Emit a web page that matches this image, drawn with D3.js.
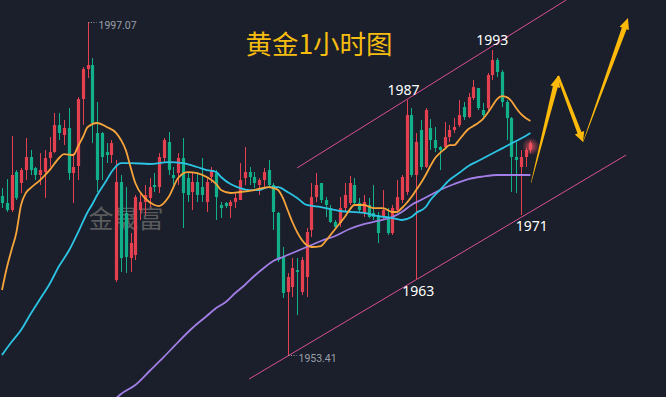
<!DOCTYPE html>
<html><head><meta charset="utf-8">
<script src="https://cdn.jsdelivr.net/npm/d3@7"></script>
<style>
html,body{margin:0;padding:0;background:#1a1f2b;overflow:hidden;}
svg{display:block}
</style></head>
<body><svg id="c" width="666" height="397"></svg>
<script>
// ---- DATA (gold 1-hour candles, price in USD) ----
const candleOpen = [1974.25,1973.34,1972.42,1977.40,1975.96,1977.66,1979.37,1977.93,1977.01,1977.40,
1979.24,1980.02,1983.56,1982.25,1983.17,1977.27,1978.19,1986.97,1990.90,1991.43,
1982.51,1982.51,1980.02,1979.63,1963.24,1976.09,1972.03,1966.13,1966.52,1972.42,
1973.47,1974.00,1975.70,1975.43,1979.24,1981.33,1977.01,1977.27,1979.24,1976.61,
1974.78,1976.09,1975.43,1973.47,1976.75,1977.27,1973.08,1973.34,1972.94,1973.47,
1973.73,1976.61,1977.40,1976.75,1975.70,1976.35,1977.66,1975.70,1972.03,1966.26,
1961.67,1962.32,1964.55,1961.67,1963.63,1969.80,1974.12,1975.96,1973.73,1972.68,
1970.85,1970.72,1972.68,1973.34,1975.70,1973.34,1972.03,1973.08,1972.03,1971.76,
1971.50,1971.50,1969.40,1972.42,1973.73,1974.78,1984.87,1977.01,1982.91,1978.06,
1983.17,1981.60,1980.68,1980.68,1981.99,1982.91,1983.56,1985.92,1984.61,1987.10,
1988.41,1985.53,1985.79,1990.12,1992.08,1990.51,1986.58,1984.48,1979.37,1978.06,
1979.37,1980.29];
const candleHigh = [1975.30,1976.48,1982.12,1977.66,1977.93,1981.86,1980.29,1978.06,1979.89,1980.29,
1981.99,1985.14,1985.14,1984.22,1985.79,1979.89,1987.23,1991.17,1997.07,1992.35,
1986.58,1982.65,1981.20,1981.60,1978.98,1977.01,1975.44,1969.40,1974.39,1974.65,
1975.70,1976.61,1977.27,1979.89,1981.86,1982.65,1978.06,1979.89,1981.86,1977.40,
1977.40,1977.40,1979.24,1976.75,1978.06,1977.66,1973.47,1973.47,1973.73,1974.78,
1978.58,1980.68,1978.06,1977.40,1976.61,1977.93,1978.98,1975.96,1972.16,1967.57,
1964.16,1966.13,1966.13,1966.26,1970.06,1975.96,1977.27,1975.96,1974.12,1973.08,
1971.11,1974.12,1975.96,1976.88,1976.61,1974.00,1974.39,1974.00,1975.70,1972.16,
1975.04,1972.68,1973.08,1976.35,1977.01,1986.84,1985.79,1982.51,1984.22,1985.79,
1984.35,1983.30,1980.81,1983.96,1983.56,1984.48,1986.84,1986.58,1987.76,1989.46,
1988.41,1986.45,1990.38,1993.40,1992.35,1990.77,1986.84,1984.61,1981.33,1980.29,
1980.55,1981.46];
const candleLow = [1972.68,1972.16,1972.16,1973.73,1974.65,1976.35,1977.01,1976.35,1975.70,1974.00,
1978.06,1979.89,1981.60,1980.94,1976.35,1973.34,1976.35,1983.56,1989.72,1981.20,
1974.78,1976.35,1978.58,1978.58,1962.98,1964.29,1964.16,1964.29,1965.86,1971.11,
1971.76,1972.81,1974.78,1974.65,1978.71,1977.01,1975.70,1975.70,1970.06,1973.47,
1972.42,1973.47,1973.47,1972.16,1975.96,1971.11,1971.37,1972.68,1971.37,1972.68,
1973.73,1975.70,1975.70,1975.30,1974.39,1975.43,1975.43,1969.80,1965.60,1960.88,
1953.41,1961.01,1958.65,1961.27,1961.01,1968.88,1973.47,1973.34,1971.50,1970.72,
1970.06,1970.19,1972.16,1973.08,1973.08,1972.16,1971.50,1971.37,1971.11,1968.09,
1971.11,1969.14,1969.14,1972.16,1973.34,1974.39,1976.75,1963.24,1977.66,1977.93,
1980.29,1980.02,1977.66,1980.55,1981.33,1982.51,1983.30,1984.22,1984.48,1986.84,
1985.53,1984.61,1985.53,1989.46,1989.86,1985.92,1981.60,1974.78,1974.65,1971.76,
1978.06,1979.89];
const candleClose = [1973.34,1972.42,1977.01,1974.00,1977.66,1979.37,1977.66,1977.01,1977.66,1979.24,
1980.02,1983.56,1982.51,1983.17,1977.27,1978.06,1986.97,1990.90,1991.43,1983.83,
1976.35,1979.37,1979.63,1981.20,1976.09,1966.13,1966.26,1968.09,1974.12,1973.47,
1974.39,1975.43,1975.43,1979.37,1981.60,1977.66,1976.61,1979.24,1974.65,1974.39,
1976.09,1974.39,1974.39,1976.09,1977.66,1974.12,1972.68,1972.94,1973.47,1974.00,
1976.35,1977.40,1976.75,1975.96,1976.35,1977.40,1975.70,1972.16,1965.86,1961.54,
1963.63,1964.82,1964.29,1965.86,1969.53,1974.12,1975.70,1973.73,1973.08,1970.85,
1970.19,1972.68,1974.39,1975.96,1973.34,1972.42,1973.47,1971.50,1971.50,1969.40,
1972.42,1969.40,1972.68,1974.12,1976.75,1984.87,1977.01,1981.33,1978.06,1985.53,
1981.60,1980.55,1980.29,1981.99,1982.91,1983.30,1984.87,1984.61,1987.23,1988.54,
1985.79,1984.87,1990.12,1992.08,1990.51,1986.58,1984.48,1979.37,1978.98,1979.37,
1980.29,1981.20];

// moving averages: [candle index, price]
const maFast = [[0,1961.93],[1,1964.82],[2,1967.17],[3,1969.40],[4,1973.08],[5,1974.65],[6,1975.30],[8,1976.35],[10,1977.66],[12,1979.24],[13,1979.76],[15,1979.63],[16,1980.81],[17,1981.99],[18,1983.30],[20,1983.83],[22,1983.30],[24,1982.51],[25,1981.60],[26,1980.29],[27,1978.06],[28,1975.96],[30,1974.00],[32,1973.08],[33,1972.94],[35,1974.12],[37,1976.61],[39,1977.40],[41,1977.27],[43,1976.75],[45,1975.83],[46,1975.04],[48,1974.65],[50,1974.78],[53,1975.04],[56,1975.43],[57,1975.30],[58,1975.04],[59,1974.00],[60,1972.42],[61,1970.85],[62,1969.53],[63,1968.49],[64,1967.83],[65,1967.57],[67,1967.70],[68,1968.36],[69,1969.14],[71,1970.72],[72,1971.50],[73,1972.42],[74,1973.08],[76,1973.08],[78,1972.68],[80,1972.68],[82,1972.16],[83,1972.16],[84,1972.68],[85,1973.34],[86,1974.12],[87,1975.04],[88,1975.96],[89,1977.01],[90,1978.19],[91,1979.24],[92,1979.89],[93,1980.42],[94,1980.94],[95,1980.94],[96,1981.60],[97,1982.38],[98,1983.04],[99,1983.43],[100,1983.83],[101,1984.35],[102,1985.14],[103,1986.05],[104,1986.97],[105,1987.36],[106,1987.23],[107,1986.71],[108,1985.79],[109,1985.01],[110,1984.48],[111,1984.09]];
const maMid = [[0,1953.41],[2,1955.11],[4,1956.69],[6,1958.78],[8,1960.75],[10,1962.72],[12,1965.08],[14,1967.04],[16,1969.53],[18,1972.16],[19,1973.21],[20,1974.39],[22,1976.35],[23,1977.40],[25,1978.58],[27,1978.58],[31,1978.45],[35,1978.71],[38,1978.58],[41,1978.06],[43,1977.66],[45,1977.40],[46,1976.75],[48,1975.83],[50,1975.30],[52,1975.04],[54,1975.04],[56,1975.43],[58,1975.43],[60,1974.78],[62,1974.00],[64,1973.08],[67,1972.81],[71,1972.29],[76,1972.03],[79,1971.63],[82,1971.37],[84,1971.11],[86,1971.50],[87,1972.03],[89,1972.81],[90,1973.73],[92,1975.04],[94,1976.35],[96,1977.27],[98,1978.19],[100,1978.84],[102,1979.50],[104,1980.15],[106,1980.81],[108,1981.46],[110,1982.12],[111,1982.51]];
const maSlow = [[22,1946.72],[24,1947.77],[25,1948.30],[28,1949.48],[31,1951.31],[34,1953.15],[37,1955.11],[40,1956.95],[43,1958.52],[45,1959.57],[47,1960.36],[49,1961.54],[51,1962.59],[53,1963.77],[55,1964.82],[57,1965.73],[59,1966.26],[61,1966.78],[63,1967.31],[65,1967.83],[67,1968.36],[70,1969.01],[73,1969.93],[76,1970.58],[79,1970.98],[82,1971.50],[84,1972.16],[86,1973.08],[88,1973.73],[90,1974.39],[92,1975.04],[95,1975.83],[98,1976.48],[101,1976.81],[104,1977.01],[108,1977.01],[111,1977.01]];

// channel lines and forecast path: [candle index, price]
const channelUpper = [[61.97,1977.93],[118.5,1999.95]];
const channelLower = [[51.9,1950.26],[131.1,1979.63]];
const forecastPath = [[111.13,1975.96],[116.8,1989.99],[122.06,1981.33],[131.5,1997.59]];

// labelled points
const pointLabels = ["1993","1987","1963","1971"];
const pointIndex  = [103, 85, 87, 109];
const pointPrice  = [1993.40, 1986.84, 1963.24, 1971.76];
const pointSide   = ["top","top","bottom","bottom"];
const extremeLabels = ["1997.07","1953.41"];
const extremeIndex  = [18, 60];
const extremePrice  = [1997.07, 1953.41];

const titleText = "黄金1小时图";
const watermarkText = "金晟富";

// ---- DRAW ----
const W = 666, H = 397;
const svg = d3.select("#c");
const x = d3.scaleLinear().domain([0, 111]).range([2, 530.4]);
const y = d3.scaleLinear().domain([1953.41, 1997.07]).range([355, 22]);

const RED = "#e5404f", GREEN = "#12b08a";
svg.append("rect").attr("width", W).attr("height", H).attr("fill", "#1a1f2b");

// watermark
svg.append("text").attr("x", 126).attr("y", 228).attr("text-anchor", "middle")
  .attr("font-family", "'Noto Sans CJK SC', sans-serif").attr("font-size", 25)
  .attr("fill", "#5b5b5e").text(watermarkText);

const line = d3.line().x(d => x(d[0])).y(d => y(d[1]));

// channel lines
[channelUpper, channelLower].forEach(c => {
  svg.append("path").attr("d", line(c)).attr("stroke", "#dc4f96")
    .attr("stroke-width", 1).attr("fill", "none");
});

const candles = d3.range(candleOpen.length).map(i => ({
  i, o: candleOpen[i], h: candleHigh[i], l: candleLow[i], c: candleClose[i]
}));
const g = svg.append("g");
const bw = 3.2;
g.selectAll("line.w").data(candles).join("line")
  .attr("x1", d => Math.round(x(d.i)) + 0.5).attr("x2", d => Math.round(x(d.i)) + 0.5)
  .attr("y1", d => y(d.h)).attr("y2", d => y(d.l))
  .attr("stroke", d => d.c >= d.o ? RED : GREEN).attr("stroke-width", 1);
g.selectAll("rect.b").data(candles).join("rect")
  .attr("x", d => Math.round(x(d.i)) + 0.5 - bw / 2)
  .attr("width", bw)
  .attr("y", d => y(Math.max(d.o, d.c)))
  .attr("height", d => Math.max(1, Math.abs(y(d.o) - y(d.c))))
  .attr("fill", d => d.c >= d.o ? RED : GREEN);

// moving averages
const maLine = d3.line().x(d => x(d[0])).y(d => y(d[1])).curve(d3.curveMonotoneX);
[[maSlow, "#a27ee6"], [maMid, "#2cc4e4"], [maFast, "#f7a43a"]].forEach(([d, col]) => {
  svg.append("path").attr("d", maLine(d)).attr("stroke", col)
    .attr("stroke-width", 1.8).attr("fill", "none");
});

// glow on last candle
const defs = svg.append("defs");
const rg = defs.append("radialGradient").attr("id", "glow");
rg.append("stop").attr("offset", "0%").attr("stop-color", "#ff5a6a").attr("stop-opacity", 0.75);
rg.append("stop").attr("offset", "100%").attr("stop-color", "#ff5a6a").attr("stop-opacity", 0);
const last = candles[candles.length - 1];
svg.append("circle").attr("cx", x(last.i) + 0.5).attr("cy", y((last.o + last.c) / 2))
  .attr("r", 9).attr("fill", "url(#glow)");

// forecast tapered arrows
function arrow(p0, p1, w0, w1, hw, hl) {
  const dx = p1[0] - p0[0], dy = p1[1] - p0[1], len = Math.hypot(dx, dy);
  const ux = dx / len, uy = dy / len, nx = -uy, ny = ux;
  const bx = p1[0] - ux * hl, by = p1[1] - uy * hl;
  const pts = [
    [p0[0] + nx * w0 / 2, p0[1] + ny * w0 / 2],
    [bx + nx * w1 / 2, by + ny * w1 / 2],
    [bx + nx * hw / 2, by + ny * hw / 2],
    [p1[0], p1[1]],
    [bx - nx * hw / 2, by - ny * hw / 2],
    [bx - nx * w1 / 2, by - ny * w1 / 2],
    [p0[0] - nx * w0 / 2, p0[1] - ny * w0 / 2]
  ];
  return "M" + pts.map(p => p.join(",")).join("L") + "Z";
}
const fp = forecastPath.map(d => [x(d[0]), y(d[1])]);
const arrowSpec = [[0.4, 5, 10, 11], [2.4, 4.2, 10, 10], [0.4, 5, 10, 11]];
for (let k = 0; k < fp.length - 1; k++) {
  const s = arrowSpec[k];
  svg.append("path").attr("d", arrow(fp[k], fp[k + 1], s[0], s[1], s[2], s[3]))
    .attr("fill", "#fdba0b");
}

// title
svg.append("text").attr("x", 319).attr("y", 54).attr("text-anchor", "middle")
  .attr("font-family", "'Noto Sans CJK SC', sans-serif").attr("font-size", 26.5)
  .attr("fill", "#f6bd0f").text(titleText);

// point labels
pointLabels.forEach((t, k) => {
  const px = x(pointIndex[k]), py = y(pointPrice[k]);
  const dxs = { "1993": 0, "1987": -3, "1963": 2, "1971": 11 };
  svg.append("text")
    .attr("x", px + dxs[t])
    .attr("y", pointSide[k] === "top" ? py - 5 : py + 16)
    .attr("text-anchor", "middle")
    .attr("font-family", "'Noto Sans', 'Open Sans', sans-serif").attr("font-size", 14)
    .attr("fill", "#ffffff").text(t);
});

// extreme labels with dotted leaders
extremeLabels.forEach((t, k) => {
  const px = Math.round(x(extremeIndex[k])) + 0.5, py = y(extremePrice[k]);
  svg.append("line").attr("x1", px).attr("x2", px + 8).attr("y1", py + 0.5).attr("y2", py + 0.5)
    .attr("stroke", "#9aa0aa").attr("stroke-width", 1).attr("stroke-dasharray", "1,1.5");
  svg.append("text").attr("x", px + 10).attr("y", py + 7)
    .attr("font-family", "'Roboto', 'Noto Sans', sans-serif").attr("font-size", 10.5)
    .attr("fill", "#9aa0aa").text(t);
});
</script>
</body></html>
